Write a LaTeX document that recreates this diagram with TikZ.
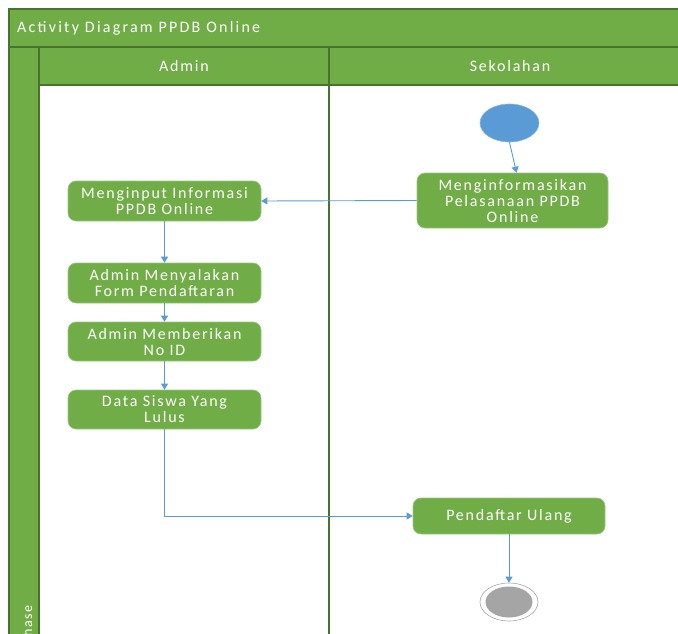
\documentclass[tikz,border=0pt]{standalone}
\usepackage{fontspec}
\setmainfont{Carlito}[LetterSpace=11]
\usetikzlibrary{arrows.meta,shapes.geometric}
\definecolor{lanegreen}{HTML}{70AD47}
\definecolor{edgegreen}{HTML}{48732C}
\definecolor{flowblue}{HTML}{5B9BD5}
\definecolor{endgray}{HTML}{A5A5A5}
\tikzset{
  frameline/.style={draw=edgegreen, line width=1.1pt},
  actbox/.style={rectangle, rounded corners=8pt, fill=lanegreen, draw=lanegreen!70!white,
    line width=0.6pt, text=white, align=center, font=\fontsize{16}{16}\selectfont,
    inner sep=0pt},
  flow/.style={draw=flowblue, line width=0.9pt, -{Triangle[width=7pt,length=6pt]}},
  hdr/.style={text=white, font=\fontsize{16}{16}\selectfont, inner sep=0pt}
}
\begin{document}
\begin{tikzpicture}[x=1pt,y=-1pt]
\useasboundingbox (0,0) rectangle (678,634);
\clip (0,0) rectangle (678,634);
% swimlane frame
\fill[lanegreen] (9,9) rectangle (690,85);
\fill[lanegreen] (9,85) rectangle (39,660);
\draw[frameline] (690,9) -- (9,9) -- (9,660);
\draw[frameline] (9,47) -- (690,47);
\draw[frameline] (39,85) -- (690,85);
\draw[frameline] (39,47) -- (39,660);
\draw[frameline] (329,47) -- (329,660);
% headings
\node[hdr, anchor=west, font=\fontsize{16}{16}\selectfont\addfontfeature{LetterSpace=14}]
  (title) at (17,28) {Activity Diagram PPDB Online};
\node[hdr] (admin) at (184,66.5) {Admin};
\node[hdr] (sekolah) at (510,66.5) {Sekolahan};
\node[hdr, rotate=90, anchor=base east, font=\fontsize{14}{14}\selectfont]
  (phase) at (32,605) {Phase};
% activity nodes
\node[ellipse, fill=flowblue, draw=flowblue!70!white, line width=0.6pt,
  minimum width=59pt, minimum height=38pt, inner sep=0pt] (start) at (509.5,123) {};
\node[actbox, minimum width=191pt, minimum height=55pt] (info) at (512.5,200.5)
  {Menginformasikan\\Pelasanaan PPDB\\Online};
\node[actbox, minimum width=193pt, minimum height=40pt] (input) at (164.5,201)
  {Menginput Informasi\\PPDB Online};
\node[actbox, minimum width=193pt, minimum height=40pt] (form) at (164.5,283)
  {Admin Menyalakan\\Form Pendaftaran};
\node[actbox, minimum width=193pt, minimum height=39pt] (noid) at (164.5,341.5)
  {Admin Memberikan\\No ID};
\node[actbox, minimum width=193pt, minimum height=39pt] (lulus) at (164.5,409.5)
  {Data Siswa Yang\\Lulus};
\node[actbox, minimum width=192pt, minimum height=36pt] (ulang) at (509,516)
  {Pendaftar Ulang};
\node[ellipse, fill=white, draw=endgray, line width=0.6pt,
  minimum width=58pt, minimum height=38pt, inner sep=0pt] (finish) at (509,602) {};
\node[ellipse, fill=endgray, minimum width=47pt, minimum height=31pt, inner sep=0pt]
  (finishdot) at (509,602) {};
% control flow
\draw[flow] (start.south) -- ([xshift=4pt]info.north);
\draw[flow] (info.west) -- (input.east);
\draw[flow] (input.south) -- (form.north);
\draw[flow] (form.south) -- (noid.north);
\draw[flow] (noid.south) -- (lulus.north);
\draw[flow] (lulus.south) |- (ulang.west);
\draw[flow] (ulang.south) -- (finish.north);
\end{tikzpicture}
\end{document}
